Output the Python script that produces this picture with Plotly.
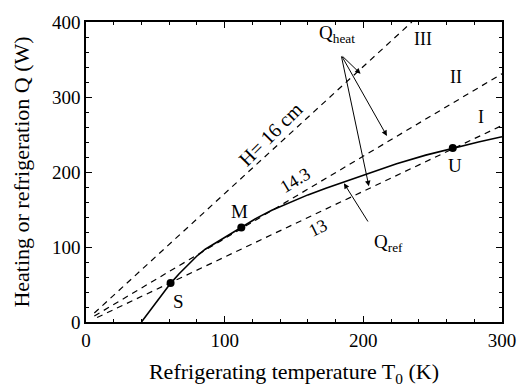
import plotly.graph_objects as go

# Q_ref curve (refrigeration)
T_ref = [40, 45, 50, 55, 61, 67, 74, 80, 86, 93, 100, 112, 123, 134, 147, 160, 173, 186, 203, 224, 245, 265, 283, 300]
Q_ref = [0, 12, 24, 37, 51.5, 64, 77.5, 88, 97, 105, 113, 126, 138.5, 149, 159.5, 169.5, 178.5, 187, 198, 211, 222.5, 232, 240, 247]

# marked points S, M, U
pt_names = ["S", "M", "U"]
pt_T = [61, 112, 264.5]
pt_Q = [52, 126, 232]

# heating lines (start, end)
lineI_T = [8, 300]
lineI_Q = [6, 262]
lineII_T = [6, 300]
lineII_Q = [8, 331]
lineIII_T = [6, 235]
lineIII_Q = [12, 400]

FONT = "Liberation Serif"

fig = go.Figure()
dash = dict(color="black", width=1.2, dash="6px,5px")
for xs, ys in [(lineI_T, lineI_Q), (lineII_T, lineII_Q), (lineIII_T, lineIII_Q)]:
    fig.add_trace(go.Scatter(x=xs, y=ys, mode="lines", line=dash, showlegend=False, hoverinfo="skip"))

fig.add_trace(go.Scatter(x=T_ref, y=Q_ref, mode="lines", line=dict(color="black", width=1.6),
                         showlegend=False))
fig.add_trace(go.Scatter(x=pt_T, y=pt_Q, mode="markers", marker=dict(color="black", size=8), showlegend=False))

ann = []
def txt(x, y, t, size=19, angle=0):
    ann.append(dict(x=x, y=y, text=t, showarrow=False, textangle=angle,
                    font=dict(family=FONT, size=size, color="black"), xref="x", yref="y"))

txt(67, 28, "S")
txt(111, 148, "M")
txt(266, 209, "U")
txt(243, 377, "III", 18)
txt(267, 327, "II", 18)
txt(285, 273, "I", 18)
txt(133, 251, "H= 16 cm", 20, -45)
txt(151, 190, "14.3", 18, -31)
txt(167, 125, "13", 18, -26)
txt(181, 384, "Q<sub>heat</sub>", 19)
txt(218, 106, "Q<sub>ref</sub>", 19)

src = (184, 356)
for tx, ty in [(198, 331), (217, 248), (204, 181)]:
    ann.append(dict(x=tx, y=ty, ax=src[0], ay=src[1], axref="x", ayref="y", xref="x", yref="y",
                    text="", showarrow=True, arrowhead=2, arrowsize=1.1, arrowwidth=1, arrowcolor="black"))
ann.append(dict(x=186, y=185, ax=204, ay=132, axref="x", ayref="y", xref="x", yref="y",
                text="", showarrow=True, arrowhead=2, arrowsize=1.1, arrowwidth=1, arrowcolor="black"))

axis_common = dict(showline=True, linecolor="black", linewidth=1.5, mirror="allticks", ticks="inside",
                   ticklen=6, tickwidth=1.2, tickcolor="black", showgrid=False, zeroline=False,
                   tickfont=dict(family=FONT, size=19, color="black"),
                   minor=dict(ticks="inside", ticklen=3, tickcolor="black", dtick=20, tickwidth=1))

fig.update_layout(
    width=528, height=392, margin=dict(l=86, r=23, t=16, b=69),
    plot_bgcolor="white", paper_bgcolor="white",
    xaxis=dict(range=[0, 300], dtick=100, tick0=0,
               title=dict(text="Refrigerating temperature T<sub>0</sub> (K)", font=dict(family=FONT, size=22, color="black"), standoff=14),
               **axis_common),
    yaxis=dict(range=[0, 400], dtick=100, tick0=0,
               title=dict(text="Heating or refrigeration Q (W)", font=dict(family=FONT, size=22, color="black"), standoff=16),
               **axis_common),
    annotations=ann,
)
fig.write_html("out.html")
